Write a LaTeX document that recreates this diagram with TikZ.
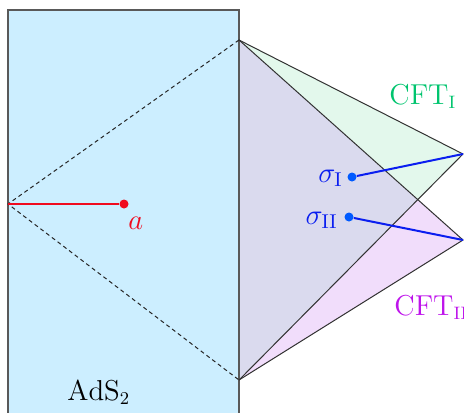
\documentclass[tikz,border=0pt]{standalone}
\definecolor{adsfill}{RGB}{204,238,255}
\definecolor{cftonefill}{RGB}{227,248,236}
\definecolor{cfttwofill}{RGB}{241,221,251}
\definecolor{overlapfill}{RGB}{218,218,238}
\definecolor{cftgreen}{RGB}{0,196,110}
\definecolor{cftpurple}{RGB}{190,20,235}
\definecolor{sigblue}{RGB}{10,30,240}
\definecolor{dotblue}{RGB}{0,90,255}
\definecolor{ared}{RGB}{240,10,30}
\tikzset{
  frame/.style={draw=black!65, line width=0.7pt},
  edge/.style={draw=black!80, line width=0.5pt},
  dashedge/.style={draw=black!85, line width=0.5pt, dash pattern=on 2pt off 1.6pt},
  bluelink/.style={draw=sigblue, line width=1pt},
  redlink/.style={draw=ared, line width=1pt},
  lbl/.style={inner sep=0pt},
  mathlbl/.style={inner sep=0pt, font=\fontsize{14}{16}\selectfont},
}
\begin{document}
\begin{tikzpicture}[x=0.5pt,y=-0.5pt,font=\fontsize{13.3}{15}\selectfont]
\useasboundingbox (0,0) rectangle (464,412);
\clip (0,0) rectangle (464,412);
\coordinate (TL) at (239,40);
\coordinate (BL) at (239,380);
\coordinate (P1) at (463,154);
\coordinate (P2) at (463,240);
\coordinate (L) at (8,204);
\coordinate (X) at (intersection of TL--P2 and BL--P1);
% AdS strip
\fill[adsfill] (8,10) rectangle (239,440);
% CFT wedges
\fill[cftonefill] (TL) -- (P1) -- (X) -- cycle;
\fill[cfttwofill] (BL) -- (P2) -- (X) -- cycle;
\fill[overlapfill] (TL) -- (X) -- (BL) -- cycle;
\draw[frame] (8,440) -- (8,10) -- (239,10) -- (239,440);
\draw[edge] (TL) -- (P1) -- (BL);
\draw[edge] (TL) -- (P2) -- (BL);
% dashed light rays
\draw[dashedge] (TL) -- (L) -- (BL);
% point a
\node[circle, fill=ared, inner sep=0pt, minimum size=4.5pt] (a) at (124,204) {};
\draw[redlink] (L) -- (a);
\node[mathlbl, anchor=base west, text=ared] (alab) at (128,229) {$a$};
% sigma points
\node[circle, fill=dotblue, inner sep=0pt, minimum size=4.5pt] (s1) at (352,177) {};
\node[circle, fill=dotblue, inner sep=0pt, minimum size=4.5pt] (s2) at (349,217) {};
\draw[bluelink] (s1) -- (P1);
\draw[bluelink] (s2) -- (P2);
\node[mathlbl, anchor=base east, text=sigblue] (s1lab) at (343,182) {$\sigma_{\mathrm{I}}$};
\node[mathlbl, anchor=base east, text=sigblue] (s2lab) at (338,224) {$\sigma_{\mathrm{II}}$};
% labels
\node[lbl, anchor=base west, text=cftgreen] (c1) at (389,104) {$\mathrm{CFT}_{\mathrm{I}}$};
\node[lbl, anchor=base west, text=cftpurple] (c2) at (394,315) {$\mathrm{CFT}_{\mathrm{II}}$};
\node[lbl, anchor=base west] (ads) at (67,400) {$\mathrm{AdS}_2$};
\end{tikzpicture}
\end{document}
